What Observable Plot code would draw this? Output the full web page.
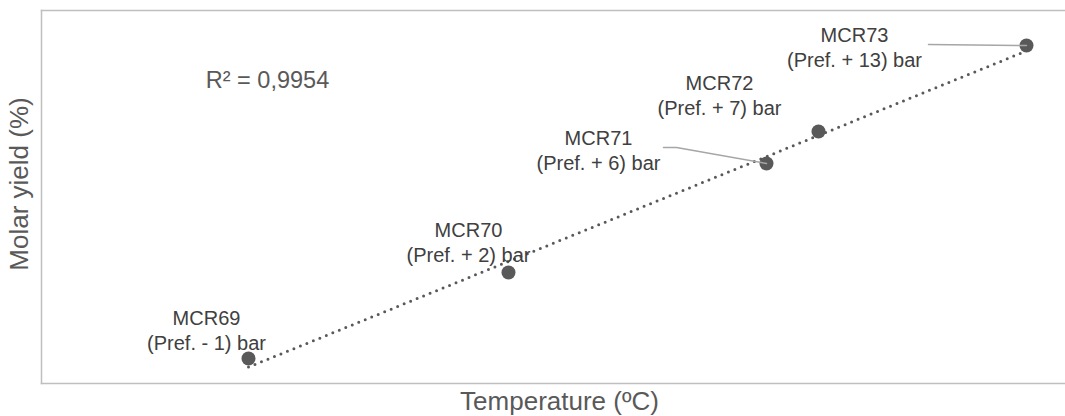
<!DOCTYPE html>
<html>
<head>
<meta charset="utf-8">
<script src="https://cdn.jsdelivr.net/npm/d3@7"></script>
<script src="https://cdn.jsdelivr.net/npm/@observablehq/plot@0.6"></script>
<style>
  html, body { margin: 0; padding: 0; background: #fff; }
  #chart { width: 1065px; height: 416px; }
  svg { font-family: "Liberation Sans", Arial, sans-serif; }
</style>
</head>
<body>
<div id="chart"></div>
<script>
// ---- data (axes carry no ticks, so units are relative) ----
const runNames  = ["MCR69", "MCR70", "MCR71", "MCR72", "MCR73"];
const pressures = ["(Pref. - 1) bar", "(Pref. + 2) bar", "(Pref. + 6) bar", "(Pref. + 7) bar", "(Pref. + 13) bar"];
const temperature = [20.7, 46.7, 72.5, 77.7, 98.5];
const molarYield  = [2.5, 11.1, 22.0, 25.2, 33.8];
const r2Text = "R² = 0,9954";
const xTitle = "Temperature (ºC)";
const yTitle = "Molar yield (%)";

// ---- layout (pixel offsets of labels from their points) ----
const labelDx = [-42, -40, -168, -99, -172];
const labelDy = [-29, -31, -14, -37, 1];
// leader lines: [run index, list of pixel offsets from the point]
const leaders = [
  [2, [[-103, -16], [-90, -16], [0, 0]]],
  [4, [[-98, -1], [0, 0]]]
];

const W = 1065, H = 416;
const mL = 41, mR = 0, mT = 10, mB = 33;
const xDomain = [0, 102.4], yDomain = [0, 37.3];
const xs = d3.scaleLinear(xDomain, [mL, W - mR]);
const ys = d3.scaleLinear(yDomain, [H - mB, mT]);

const pts = runNames.map((n, i) => ({
  name: n, x: temperature[i], y: molarYield[i],
  label: n + "\n" + pressures[i],
  lx: xs.invert(xs(temperature[i]) + labelDx[i]),
  ly: ys.invert(ys(molarYield[i]) + labelDy[i])
}));

const leaderRows = [];
leaders.forEach(([i, offs], k) => {
  const p = pts[i];
  offs.forEach(([dx, dy]) => leaderRows.push({
    k, x: xs.invert(xs(p.x) + dx), y: ys.invert(ys(p.y) + dy)
  }));
});

const grey = "#595959";
const chart = Plot.plot({
  width: W, height: H,
  marginLeft: mL, marginRight: mR, marginTop: mT, marginBottom: mB,
  style: { fontFamily: "'Liberation Sans', Arial, sans-serif", background: "#fff", overflow: "visible" },
  x: { domain: xDomain, axis: null },
  y: { domain: yDomain, axis: null },
  marks: [
    Plot.frame({ anchor: "left", stroke: "#bfbfbf", strokeWidth: 1.5 }),
    Plot.frame({ anchor: "top", stroke: "#bfbfbf", strokeWidth: 1.5 }),
    Plot.frame({ anchor: "bottom", stroke: "#bfbfbf", strokeWidth: 1.5 }),
    Plot.linearRegressionY(pts, {
      x: "x", y: "y", ci: 0, stroke: grey, strokeWidth: 3,
      strokeDasharray: "0,7", strokeLinecap: "round"
    }),
    Plot.dot(pts, { x: "x", y: "y", r: 7, fill: grey, stroke: "none" }),
    Plot.line(leaderRows, { x: "x", y: "y", z: "k", stroke: "#a6a6a6", strokeWidth: 1.5 }),
    Plot.text(pts, {
      x: "lx", y: "ly", text: "label",
      fontSize: 20, fill: "#404040", lineHeight: 1.22
    }),
    Plot.text([r2Text], { frameAnchor: "top-left", dx: 226, dy: 70, fontSize: 23.5, fill: grey, textAnchor: "middle", lineAnchor: "middle" }),
    Plot.text([xTitle], { frameAnchor: "bottom", dx: 6, dy: 18, fontSize: 26, fill: grey, lineAnchor: "middle" }),
    Plot.text([yTitle], { frameAnchor: "left", rotate: -90, dx: -22, dy: -13, fontSize: 26, fill: grey, textAnchor: "middle", lineAnchor: "middle" })
  ]
});
document.getElementById("chart").appendChild(chart);
</script>
</body>
</html>
